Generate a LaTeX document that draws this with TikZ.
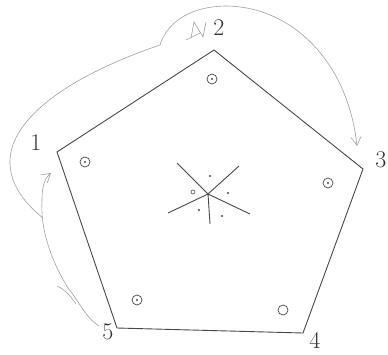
\documentclass[tikz,border=0pt]{standalone}
\usepackage{tikz}
\usetikzlibrary{arrows.meta}
\definecolor{Ink}{HTML}{333333}
\definecolor{Lead}{HTML}{474747}
\definecolor{Pencil}{HTML}{A0A0A0}
\tikzset{
  rim/.style={draw=Lead,line width=0.9pt,line join=miter},
  pencil/.style={draw=Pencil,line width=0.6pt},
  pencilArrow/.style={pencil,-{Straight Barb[length=3mm,width=3.6mm]}},
  ray/.style={draw=Lead,line width=0.9pt},
  seed/.style={circle,draw=Lead,line width=0.7pt,minimum size=10pt,inner sep=0pt},
  pip/.style={circle,fill=Lead,minimum size=2.4pt,inner sep=0pt},
  tag/.style={text=Ink,font=\fontsize{24}{26}\selectfont,inner sep=0pt}
}
\begin{document}
\begin{tikzpicture}[x=1pt,y=-1pt]
\useasboundingbox (0,0) rectangle (388,354);
% pentagon
\coordinate (v1) at (57,152);
\coordinate (v2) at (214,50);
\coordinate (v3) at (363,169);
\coordinate (v4) at (303,333);
\coordinate (v5) at (117,328);
\draw[rim] (v1)--(v2)--(v3)--(v4)--(v5)--cycle;
% corner numbers
\node[tag] (t1) at (36,143) {1};
\node[tag] (t2) at (219,28) {2};
\node[tag] (t3) at (381,160) {3};
\node[tag] (t4) at (315,340) {4};
\node[tag] (t5) at (108,332) {5};
% seeds
\node[seed] (s1) at (85,162) {}; \node[pip] at (s1) {};
\node[seed] (s2) at (212,79) {}; \node[pip] at (s2) {};
\node[seed] (s3) at (328,183) {}; \node[pip] at (s3) {};
\node[seed] (s4) at (283,310) {};
\node[seed] (s5) at (137,300) {}; \node[pip] at (s5) {};
% middle star
\coordinate (mid) at (208,194);
\coordinate (r1) at (177,163);
\coordinate (r2) at (239,166);
\coordinate (r3) at (250,214);
\coordinate (r4) at (210,224);
\coordinate (r5) at (168,213);
\foreach \r in {r1,r2,r3,r4,r5} \draw[ray] (mid)--(\r);
\node[pip] at (mid) {};
\node[pip] (d1) at (210,176) {};
\node[circle,draw=Lead,line width=0.6pt,minimum size=4pt,inner sep=0pt] (d2) at (193,192) {};
\node[pip] (d3) at (228,193) {};
\node[pip] (d4) at (199,210) {};
\node[pip] (d5) at (222,216) {};
% pencil route 5 -> 1 -> 2 -> 3
\coordinate (c5) at (99,326);
\coordinate (c1) at (51,173);
\coordinate (fork) at (43,218);
\coordinate (c3) at (357,146);
\draw[pencilArrow] (c5) .. controls (86,318) and (78,300) .. (68,288)
  .. controls (52,262) and (40,230) .. (42,200)
  .. controls (42,186) and (45,178) .. (c1);
\draw[pencil] (57,286) .. controls (66,290) and (72,298) .. (76,304);
\draw[pencilArrow] (fork) .. controls (18,198) and (2,172) .. (14,142)
  .. controls (34,95) and (110,62) .. (160,45)
  .. controls (166,26) and (185,7) .. (225,6)
  .. controls (292,6) and (348,62) .. (c3);
\draw[pencil] (191,38) -- (194,22) -- (203,37) -- (206,22);
\draw[pencil] (186,40) -- (200,33);
\end{tikzpicture}
\end{document}
